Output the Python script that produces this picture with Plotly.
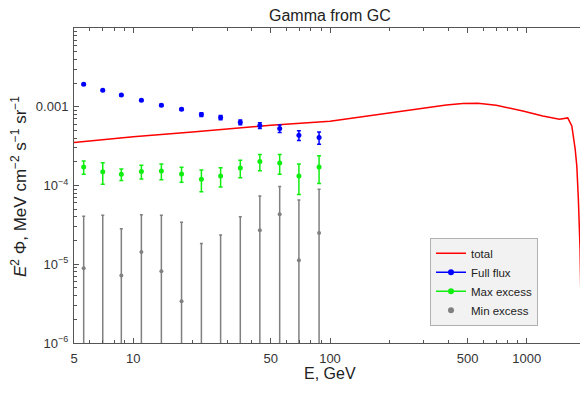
import plotly.graph_objects as go

# ---------------- data ----------------
energy = [5.6, 7.0, 8.7, 11.0, 13.9, 17.6, 22.2, 27.8, 35.0, 44.0, 55.5, 69.5, 88.0]

full_flux = [1.93e-3, 1.62e-3, 1.41e-3, 1.21e-3, 1.045e-3, 0.93e-3, 0.796e-3,
             0.73e-3, 0.636e-3, 0.577e-3, 0.529e-3, 0.435e-3, 0.406e-3]
full_flux_err = [0.05e-3, 0.04e-3, 0.035e-3, 0.03e-3, 0.03e-3, 0.03e-3, 0.045e-3,
                 0.047e-3, 0.044e-3, 0.049e-3, 0.057e-3, 0.061e-3, 0.071e-3]

max_excess = [1.72e-4, 1.49e-4, 1.39e-4, 1.51e-4, 1.53e-4, 1.40e-4, 1.20e-4,
              1.32e-4, 1.67e-4, 2.01e-4, 1.93e-4, 1.32e-4, 1.72e-4]
max_excess_err = [0.33e-4, 0.45e-4, 0.23e-4, 0.30e-4, 0.35e-4, 0.30e-4, 0.37e-4,
                  0.36e-4, 0.42e-4, 0.47e-4, 0.54e-4, 0.55e-4, 0.66e-4]

min_excess = [0.887e-5, -0.5e-5, 0.722e-5, 1.43e-5, 0.813e-5, 0.338e-5, -0.6e-5,
              -0.4e-5, -0.3e-5, 2.70e-5, 4.31e-5, 1.12e-5, 2.49e-5]
min_excess_err = [3.17e-5, 4.7e-5, 2.11e-5, 2.82e-5, 3.37e-5, 3.07e-5, 2.43e-5,
                  2.75e-5, 4.3e-5, 4.66e-5, 5.37e-5, 5.43e-5, 6.46e-5]

total_energy = [5, 10, 20, 50, 100, 179, 264, 390, 473, 564, 699, 955, 1206,
                1466, 1615, 1694, 1762, 1796, 1829, 1866, 1900]
total_flux = [3.51e-4, 4.16e-4, 4.79e-4, 5.82e-4, 6.55e-4, 8.03e-4, 9.29e-4,
              1.054e-3, 1.10e-3, 1.107e-3, 1.045e-3, 8.85e-4, 7.63e-4, 6.93e-4,
              7.21e-4, 5.70e-4, 2.89e-4, 1.77e-4, 6.68e-5, 1.55e-5, 1e-6]

x_tick_vals = [5, 10, 50, 100, 500, 1000]
x_tick_text = ["5", "10", "50", "100", "500", "1000"]
y_tick_vals = [1e-6, 1e-5, 1e-4, 1e-3]
y_tick_text = ["10<sup>−6</sup>", "10<sup>−5</sup>", "10<sup>−4</sup>", "0.001"]

# ---------------- styling ----------------
FONT = "Liberation Sans, Arial, sans-serif"
RED, BLUE, GREEN, GRAY = "#ff0000", "#0000ff", "#11ee11", "#808080"
AX = "#555555"

x_minor = [m * 10 ** k for k in range(0, 4) for m in range(2, 10)]
x_minor = [v for v in x_minor if 5 < v < 2000 and v not in x_tick_vals]
y_minor = [m * 10.0 ** k for k in range(-6, -2) for m in range(2, 10)]

# negative central values cannot sit on a log axis: park them below the range
min_plot = [v if v > 0 else 1e-9 for v in min_excess]
min_up = [v + e - p for v, e, p in zip(min_excess, min_excess_err, min_plot)]
min_dn = list(min_plot)

fig = go.Figure()

fig.add_trace(go.Scatter(x=total_energy, y=total_flux, mode="lines",
                         line=dict(color=RED, width=1.5), showlegend=False))

fig.add_trace(go.Scatter(
    x=energy, y=min_plot, mode="markers", showlegend=False,
    marker=dict(color=GRAY, size=4),
    error_y=dict(type="data", symmetric=False, array=min_up, arrayminus=min_dn,
                 color=GRAY, thickness=1.5, width=1.5)))

fig.add_trace(go.Scatter(
    x=energy, y=max_excess, mode="markers", showlegend=False,
    marker=dict(color=GREEN, size=5),
    error_y=dict(type="data", array=max_excess_err, color=GREEN,
                 thickness=1.5, width=2)))

fig.add_trace(go.Scatter(
    x=energy, y=full_flux, mode="markers", showlegend=False,
    marker=dict(color=BLUE, size=5),
    error_y=dict(type="data", array=full_flux_err, color=BLUE,
                 thickness=1.5, width=2)))

# legend entries
fig.add_trace(go.Scatter(x=[None], y=[None], mode="lines", name="total",
                         line=dict(color=RED, width=1.5)))
fig.add_trace(go.Scatter(x=[None], y=[None], mode="lines+markers", name="Full flux",
                         line=dict(color=BLUE, width=1.5), marker=dict(color=BLUE, size=6)))
fig.add_trace(go.Scatter(x=[None], y=[None], mode="lines+markers", name="Max excess",
                         line=dict(color=GREEN, width=1.5), marker=dict(color=GREEN, size=6)))
fig.add_trace(go.Scatter(x=[None], y=[None], mode="markers", name="Min excess",
                         marker=dict(color=GRAY, size=6)))

fig.update_layout(
    width=580, height=394,
    margin=dict(l=74, r=0, t=28, b=51, pad=0),
    paper_bgcolor="white", plot_bgcolor="white",
    font=dict(family=FONT, size=13, color="#333333"),
    showlegend=True,
    legend=dict(x=(430 - 74) / 506, y=0.334, xanchor="left", yanchor="top",
                bgcolor="#f2f2f2", bordercolor="#b0b0b0", borderwidth=1,
                font=dict(size=11.5, color="#222222"), itemwidth=30),
    xaxis=dict(type="log", range=[0.69897, 3.2705],
               tickmode="array", tickvals=x_tick_vals, ticktext=x_tick_text,
               ticks="inside", ticklen=5, tickwidth=1, tickcolor=AX,
               showline=True, linecolor=AX, linewidth=1, mirror="allticks",
               showgrid=False, zeroline=False, ticklabelstandoff=3,
               minor=dict(tickmode="array", tickvals=x_minor, ticks="inside",
                          ticklen=3, tickcolor=AX, showgrid=False)),
    yaxis=dict(type="log", range=[-6, -2],
               tickmode="array", tickvals=y_tick_vals, ticktext=y_tick_text,
               ticks="inside", ticklen=5, tickwidth=1, tickcolor=AX,
               showline=True, linecolor=AX, linewidth=1, mirror=False,
               showgrid=False, zeroline=False, ticklabelstandoff=2,
               minor=dict(tickmode="array", tickvals=y_minor, ticks="inside",
                          ticklen=3, tickcolor=AX, showgrid=False)),
    annotations=[
        dict(text="Gamma from GC", xref="paper", yref="paper",
             x=(330 - 74) / 506, y=1 + (28 - 16) / 315, xanchor="center", yanchor="middle",
             showarrow=False, font=dict(size=16, color="#222222")),
        dict(text="E, GeV", xref="paper", yref="paper",
             x=(329.5 - 74) / 506, y=-(373 - 343) / 315, xanchor="center", yanchor="middle",
             showarrow=False, font=dict(size=16, color="#222222")),
        dict(text="<i>E</i><sup>2</sup> Φ, MeV cm<sup>−2</sup> s<sup>−1</sup> sr<sup>−1</sup>",
             xref="paper", yref="paper", textangle=-90,
             x=-(74 - 19) / 506, y=(343 - 187) / 315, xanchor="center", yanchor="middle",
             showarrow=False, font=dict(size=17, color="#222222")),
    ],
)

fig.write_html("out.html")
